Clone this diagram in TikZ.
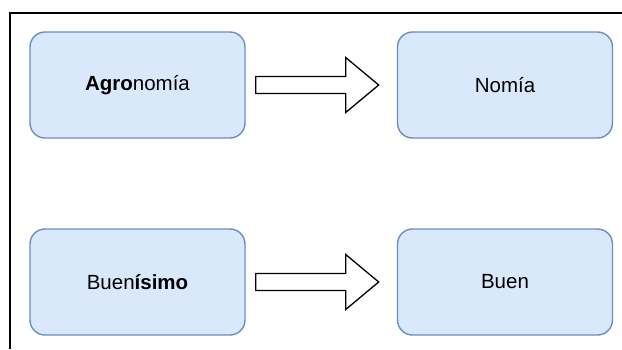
\documentclass[tikz,border=0pt]{standalone}
\usepackage{fontspec}
\setmainfont{Liberation Sans}
\usetikzlibrary{calc}
\definecolor{boxfill}{HTML}{DAE8FC}
\definecolor{boxline}{HTML}{6C8EBF}
\tikzset{
  wordbox/.style={draw=boxline, fill=boxfill, line width=1.4pt, rounded corners=15pt,
    minimum width=215pt, minimum height=106pt, inner sep=0pt,
    font=\fontsize{20.5}{24}\selectfont},
  fatarrow/.style={draw=black, fill=white, line width=1.3pt, line join=miter}
}
% outline arrow starting just right of a node's east anchor
\newcommand\hollowarrow[1]{%
  \draw[fatarrow] ($(#1.east)+(10,-8.5)$) -- ++(90,0) -- ++(0,-19) -- ++(33,27.5)
    -- ++(-33,27.5) -- ++(0,-19) -- ++(-90,0) -- cycle;}
\begin{document}
\begin{tikzpicture}[x=1pt,y=-1pt]
\useasboundingbox (0,0) rectangle (622,349);
% frame
\draw[line width=2.6pt] (10,349) -- (10,13) -- (622,13);
% word boxes
\node[wordbox] (a1) at (137.5,85) {\textbf{Agro}nomía};
\node[wordbox] (a2) at (505,85) {Nomía};
\node[wordbox] (b1) at (137.5,282) {Buen\textbf{ísimo}};
\node[wordbox] (b2) at (505,282) {Buen};
% arrows
\hollowarrow{a1}
\hollowarrow{b1}
\end{tikzpicture}
\end{document}
